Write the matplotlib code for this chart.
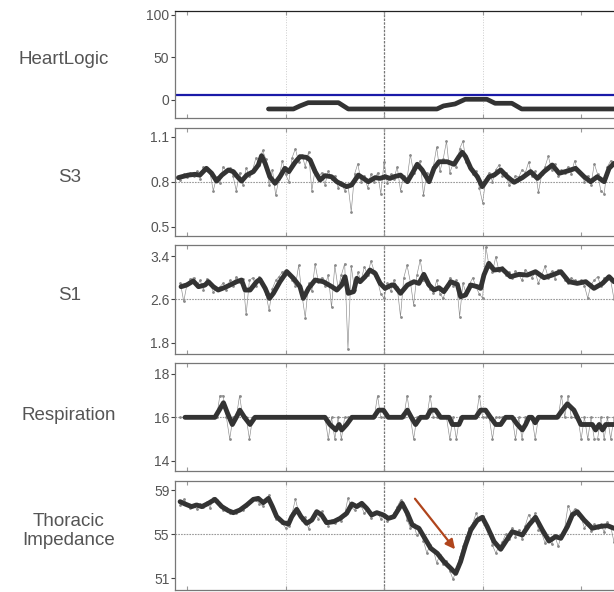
import matplotlib
matplotlib.use("Agg")
import matplotlib.pyplot as plt
import numpy as np

plt.rcParams['font.family'] = ['Liberation Sans', 'DejaVu Sans']

# daily raw values, day -2 .. 130
days = np.arange(-2, 131)

s3_raw = [0.81, 0.85, 0.83, 0.86, 0.84, 0.87, 0.82, 0.90, 0.88, 0.86,
          0.74, 0.83, 0.79, 0.90, 0.87, 0.89, 0.84, 0.74, 0.86, 0.78,
          0.89, 0.84, 0.88, 0.96, 0.91, 1.01, 0.95, 0.78, 0.88, 0.71,
          0.82, 0.94, 0.85, 0.80, 0.96, 1.02, 0.93, 0.98, 0.90, 1.00,
          0.74, 0.88, 0.83, 0.86, 0.78, 0.87, 0.82, 0.84, 0.76, 0.80,
          0.74, 0.78, 0.60, 0.85, 0.92, 0.80, 0.84, 0.76, 0.85, 0.80,
          0.86, 0.72, 0.93, 0.79, 0.85, 0.82, 0.90, 0.74, 0.84, 0.82,
          0.98, 0.86, 0.90, 0.94, 0.71, 0.86, 0.84, 0.90, 1.03, 0.87,
          0.95, 1.07, 0.86, 0.92, 0.90, 1.02, 1.07, 0.93, 0.90, 0.85,
          0.87, 0.76, 0.66, 0.82, 0.86, 0.80, 0.88, 0.91, 0.84, 0.86,
          0.78, 0.80, 0.84, 0.83, 0.88, 0.86, 0.93, 0.84, 0.87, 0.73,
          0.85, 0.90, 0.97, 0.88, 0.92, 0.84, 0.88, 0.86, 0.90, 0.85,
          0.94, 0.87, 0.86, 0.80, 0.84, 0.78, 0.92, 0.85, 0.74, 0.72,
          0.90, 0.94, 0.91]

s1_raw = [2.90, 2.56, 2.88, 2.97, 3.00, 2.85, 2.95, 2.78, 2.98, 2.90,
          2.74, 2.80, 2.83, 2.90, 2.78, 2.95, 2.85, 3.02, 2.92, 2.98,
          2.32, 2.95, 3.00, 2.85, 3.02, 2.88, 2.70, 2.40, 2.80, 2.95,
          3.02, 3.10, 3.14, 3.05, 2.95, 2.85, 3.23, 2.68, 2.26, 2.90,
          2.75, 3.25, 2.92, 3.00, 2.85, 3.05, 2.45, 3.23, 2.80, 3.05,
          3.26, 1.68, 3.22, 2.78, 3.10, 2.95, 3.20, 3.05, 3.31, 3.12,
          2.95, 2.70, 2.62, 2.90, 2.75, 2.95, 2.82, 2.28, 3.00, 3.23,
          2.92, 2.50, 3.05, 3.33, 2.95, 2.88, 2.80, 2.72, 2.95, 2.70,
          2.62, 2.80, 3.00, 2.85, 2.95, 2.28, 2.90, 2.70, 2.88, 3.00,
          2.82, 2.70, 2.62, 3.57, 3.20, 3.10, 3.39, 3.12, 3.20, 3.05,
          3.10, 3.00, 3.12, 3.05, 2.95, 3.15, 3.08, 3.00, 3.10, 2.90,
          3.05, 3.21, 3.00, 3.12, 2.98, 3.15, 3.10, 2.95, 2.90, 3.00,
          2.95, 2.90, 2.95, 2.85, 2.62, 2.88, 2.95, 3.02, 2.85, 3.00,
          2.98, 2.95, 2.60]

resp_raw = [16, 16, 16, 16, 16, 16, 16, 16, 16, 16,
            16, 16, 17, 17, 16, 15, 16, 16, 17, 16,
            16, 15, 16, 16, 16, 16, 16, 16, 16, 16,
            16, 16, 16, 16, 16, 16, 16, 16, 16, 16,
            16, 16, 16, 16, 16, 15, 16, 15, 16, 15,
            16, 16, 16, 16, 16, 16, 16, 16, 16, 16,
            17, 16, 16, 16, 16, 16, 16, 16, 16, 17,
            16, 15, 16, 16, 16, 16, 17, 16, 16, 16,
            16, 16, 15, 16, 15, 16, 16, 16, 16, 16,
            16, 17, 16, 16, 16, 15, 16, 16, 16, 16,
            16, 16, 15, 16, 15, 16, 16, 16, 15, 16,
            16, 16, 16, 16, 16, 16, 17, 16, 17, 16,
            16, 16, 15, 16, 15, 16, 15, 15, 16, 15,
            16, 15, 16]

thor_raw = [57.7, 58.2, 57.8, 57.4, 57.6, 57.3, 57.8, 57.5, 57.9, 57.4,
            58.3, 58.1, 57.6, 57.2, 57.4, 56.9, 57.1, 56.9, 57.3, 57.2,
            57.6, 57.9, 58.3, 58.1, 57.8, 57.6, 58.0, 58.6, 57.5, 56.4,
            56.3, 56.0, 55.6, 55.8, 56.9, 58.2, 57.0, 56.3, 56.6, 55.5,
            56.5, 56.9, 56.4, 57.1, 56.1, 55.8, 56.3, 56.0, 56.5, 56.2,
            56.8, 58.3, 57.5, 57.2, 57.8, 57.6, 56.9, 57.3, 56.5, 56.9,
            57.0, 56.4, 56.8, 56.2, 56.6, 56.9, 57.5, 58.1, 57.4, 56.3,
            55.6, 55.9, 54.9, 55.3, 54.4, 53.3, 54.0, 53.6, 52.4, 53.1,
            52.3, 52.6, 51.7, 50.9, 51.8, 52.9, 53.9, 54.8, 55.6, 56.0,
            56.9, 56.3, 56.7, 55.8, 55.2, 54.0, 53.3, 53.9, 54.3, 55.0,
            54.6, 55.6, 54.8, 55.4, 54.6, 55.8, 56.8, 56.2, 56.9, 55.4,
            55.1, 54.2, 54.8, 54.1, 54.9, 53.9, 54.9, 55.6, 57.6, 56.9,
            57.3, 56.8, 56.5, 55.6, 56.0, 55.3, 55.9, 55.6, 55.9, 55.2,
            56.1, 55.7, 54.3]

# smoothed trends
s3_days = [-2.6, -1.6, 0.4, 2.4, 3.9, 5.9, 7.5, 9, 10.6, 12.6, 14.1, 15.6, 16.6, 18.2,
           20.2, 21.7, 22.7, 23.8, 25.2, 26.8, 28.3, 29.8, 31, 32.9, 34.4, 36.4, 37.5,
           39, 40.5, 42, 44, 45.6, 47.1, 48.6, 50.1, 52.2, 53.7, 55.2, 57.3, 58.8, 60.3,
           61.8, 63, 65, 67.1, 68.6, 70.1, 71.6, 73.7, 75.2, 76.7, 79.2, 81.3, 82.8, 83.8,
           84.8, 86.4, 88.4, 89.9, 92, 93.5, 95.5, 97.5, 99.6, 102.1, 104.6, 106.7, 108.7,
           111.2, 113.3, 115.8, 118.3, 120.9, 122.9, 124.9, 127, 128.5, 130]
s3_trend = [0.827, 0.833, 0.844, 0.849, 0.844, 0.889, 0.856, 0.804, 0.844, 0.878, 0.867,
            0.827, 0.804, 0.844, 0.867, 0.911, 0.973, 0.922, 0.833, 0.789, 0.833, 0.889,
            0.867, 0.929, 0.967, 0.962, 0.944, 0.867, 0.811, 0.84, 0.833, 0.8, 0.782,
            0.767, 0.778, 0.844, 0.822, 0.8, 0.827, 0.822, 0.833, 0.822, 0.833, 0.844,
            0.8, 0.856, 0.916, 0.878, 0.8, 0.889, 0.933, 0.933, 0.916, 0.967, 0.996,
            0.967, 0.889, 0.833, 0.767, 0.833, 0.844, 0.878, 0.833, 0.796, 0.827, 0.867,
            0.822, 0.867, 0.911, 0.856, 0.871, 0.889, 0.833, 0.8, 0.833, 0.8, 0.889, 0.922]

s1_days = [-1.8, -0.1, 1.9, 3.5, 5.5, 6.5, 8, 9.5, 11.6, 13.1, 15.1, 16.6, 17.7, 19.2,
           21.2, 22.2, 23.8, 25.1, 26.3, 28.3, 30.4, 32.4, 34.4, 35.4, 37, 39, 41.5,
           44.1, 45.6, 47.1, 48.1, 49.1, 50.7, 51.7, 52.7, 54.2, 55.7, 57.3, 58.8, 60.3,
           62.3, 63, 65, 67.1, 69.1, 70.6, 72.1, 73.7, 75.2, 76.7, 78.2, 80.3, 82.3, 83.3,
           84.8, 86.4, 88.4, 89.4, 90.4, 91.9, 93.5, 96, 98.5, 101.1, 103.6, 106.1,
           108.7, 111.2, 113.8, 116.3, 118.8, 121.4, 123.9, 126.5, 128.5, 130]
s1_trend = [2.834, 2.865, 2.938, 2.834, 2.865, 2.926, 2.834, 2.772, 2.822, 2.865, 2.926,
            2.957, 2.772, 2.772, 2.926, 2.969, 2.803, 2.618, 2.711, 2.926, 3.111, 2.988,
            2.834, 2.618, 2.803, 2.957, 2.926, 2.834, 2.772, 2.865, 3.018, 2.711, 2.742,
            2.988, 2.926, 3.018, 3.142, 3.08, 2.895, 2.803, 2.865, 2.865, 2.711, 2.865,
            2.926, 2.895, 3.062, 2.865, 2.772, 2.815, 2.742, 2.926, 2.877, 2.649, 2.68,
            2.865, 2.834, 2.803, 3.049, 3.265, 3.142, 3.16, 3.018, 3.062, 3.049, 3.111,
            3.0, 3.049, 3.111, 2.926, 2.895, 2.926, 2.803, 2.895, 3.018, 2.926]

resp_days = [-0.6, 8.5, 9.8, 11.1, 12.3, 13.8, 15, 16.1, 17.5, 19.2, 20.7, 42, 43.5, 45.3,
             46.3, 47.1, 48.6, 50.2, 56.8, 58.3, 59.8, 61.3, 65.5, 67.1, 68.3, 69.6, 71.1,
             73, 74.2, 75.7, 77.2, 79.8, 80.8, 82.8, 83.8, 87.9, 89.4, 90.9, 92.4, 94,
             95.5, 97, 99, 100.6, 102.1, 103.1, 104.1, 105, 106, 107, 112.7, 114.3, 115.8,
             117.8, 119.9, 123.4, 124.4, 125.5, 126.5, 127.5, 130]
resp_trend = [16, 16, 16.33, 16.67, 16.2, 15.67, 16, 16.33, 16, 15.67, 16, 16, 15.67, 15.42,
              15.67, 15.42, 15.67, 16, 16, 16.33, 16.33, 16, 16, 16.33, 16, 15.67, 16,
              16, 16.33, 16.33, 16, 16, 15.67, 15.67, 16, 16, 16.33, 16.33, 16, 15.67,
              15.67, 16, 16, 15.67, 15.42, 15.67, 16, 16, 15.75, 16, 16, 16.33, 16.62,
              16.33, 15.67, 15.67, 15.42, 15.67, 15.42, 15.67, 15.67]

thor_days = [-2.1, -0.6, 1.4, 2.9, 4.5, 6.5, 8.5, 10.6, 12.6, 14.1, 16.1, 18.2, 20.2,
             21.7, 23.2, 24.8, 26, 27.3, 29.3, 30.9, 31.9, 33.4, 34.7, 36.4, 38, 39.5,
             41, 42.5, 44.6, 46.6, 48.6, 50.2, 51.7, 53.2, 54.7, 56.2, 57.8, 59.8, 61.3,
             63, 65.5, 67.1, 68.6, 70.6, 72.1, 74.2, 76.2, 78.2, 80.3, 81.8, 83.3, 84.8,
             86.4, 88.4, 89.9, 91.4, 93.5, 95.5, 97, 99, 100.6, 102.1, 104.1, 106.1,
             108.2, 110.2, 112.2, 113.8, 115.8, 117.3, 118.8, 120.9, 123.4, 125.4, 128, 130]
thor_trend = [57.97, 57.76, 57.52, 57.67, 57.52, 57.82, 58.18, 57.52, 57.15, 56.97, 57.21,
              57.67, 58.18, 58.27, 57.88, 58.27, 57.52, 56.61, 56.06, 55.94, 56.61, 57.27,
              56.61, 56.0, 56.3, 57.06, 56.76, 56.06, 56.15, 56.45, 56.91, 57.76, 57.52,
              57.82, 57.36, 56.76, 56.97, 56.76, 56.45, 56.61, 57.82, 56.91, 55.85, 55.55,
              54.79, 53.73, 53.27, 52.52, 51.91, 51.45, 52.52, 54.03, 55.39, 56.3, 56.55,
              55.7, 54.33, 53.64, 54.33, 55.24, 55.09, 54.94, 55.85, 56.55, 55.39, 54.39,
              54.79, 54.64, 55.7, 56.76, 57.06, 56.3, 55.55, 55.7, 55.79, 55.55]

hl_days = [24.8, 32.4, 34.4, 36.9, 46.1, 49.1, 76.1, 78.1, 81.6, 84.7, 91.3, 93.8, 98.9,
           101.9, 130]
hl_index = [-10.6, -10.6, -7, -3.2, -3.2, -10.6, -10.6, -7, -4.7, 0.8, 0.8, -3.9, -3.9,
            -10.6, -10.6]
hl_threshold = 5.9

fig = plt.figure(figsize=(6.14, 5.92), dpi=100)

label_color = '#555555'
grid_days = [30, 90]


def setup(ax, ylim, yticks, yticklabels):
    ax.set_xlim(-3.66, 130)
    ax.set_ylim(*ylim)
    ax.set_yticks(yticks)
    ax.set_yticklabels(yticklabels)
    ax.set_xticks([0, 30, 60, 90, 120])
    ax.set_xticklabels([])
    ax.tick_params(axis='x', direction='in', length=3, top=True, color='#999999', width=0.8)
    ax.tick_params(axis='y', direction='out', length=3, color='#444444', width=0.8,
                   labelsize=10, labelcolor=label_color, pad=1)
    ax.spines['right'].set_visible(False)
    for s in ['left', 'top', 'bottom']:
        ax.spines[s].set_color('#777777')
        ax.spines[s].set_linewidth(0.9)
    for d in grid_days:
        ax.axvline(d, color='#cccccc', lw=0.7, ls=':', zorder=0)
    ax.axvline(60, color='#777777', lw=0.9, ls=(0, (2, 1)), zorder=0)


def trend_panel(ax, raw, tdays, trend, ref):
    ax.axhline(ref, color='#999999', lw=0.8, ls=(0, (1.5, 1)), zorder=1)
    ax.plot(days, raw, color='#8a8a8a', lw=0.45, marker='.', ms=2, zorder=2)
    ax.plot(tdays, trend, color='#333333', lw=3.5, solid_capstyle='round', zorder=3)


# panel positions (left, bottom, width, height)
positions = [[0.285, 0.8007, 0.715, 0.1812],
             [0.285, 0.6014, 0.715, 0.1824],
             [0.285, 0.4020, 0.715, 0.1841],
             [0.285, 0.2044, 0.715, 0.1824],
             [0.285, 0.0034, 0.715, 0.1841]]
axes = [fig.add_axes(p) for p in positions]

ax = axes[0]
setup(ax, (-21.2, 105), [0, 50, 100], ['0', '50', '100'])
ax.spines['top'].set_color('#222222')
ax.axhline(hl_threshold, color='#1a1aa8', lw=1.6, zorder=2)
ax.plot(hl_days, hl_index, color='#333333', lw=3.4, solid_capstyle='round', zorder=3)

ax = axes[1]
setup(ax, (0.438, 1.158), [0.5, 0.8, 1.1], ['0.5', '0.8', '1.1'])
trend_panel(ax, s3_raw, s3_days, s3_trend, 0.8)

ax = axes[2]
setup(ax, (1.589, 3.604), [1.8, 2.6, 3.4], ['1.8', '2.6', '3.4'])
trend_panel(ax, s1_raw, s1_days, s1_trend, 2.6)

ax = axes[3]
setup(ax, (13.53, 18.5), [14, 16, 18], ['14', '16', '18'])
trend_panel(ax, resp_raw, resp_days, resp_trend, 16)

ax = axes[4]
setup(ax, (49.94, 59.85), [51, 55, 59], ['51', '55', '59'])
trend_panel(ax, thor_raw, thor_days, thor_trend, 55)
ax.annotate('', xy=(81.6, 53.64), xytext=(69.4, 58.24),
            arrowprops=dict(arrowstyle='-|>', color='#b0451c', lw=1.6,
                            mutation_scale=14, shrinkA=0, shrinkB=0), zorder=5)

names = [('HeartLogic', 63.5, 59), ('S3', 70, 178), ('S1', 70, 296),
         ('Respiration', 68.5, 415), ('Thoracic\nImpedance', 69, 531)]
for name, px, py in names:
    fig.text(px / 614, 1 - py / 592, name, ha='center', va='center',
             fontsize=13.5, color=label_color, linespacing=1.2)

fig.savefig('out.png', dpi=100)
